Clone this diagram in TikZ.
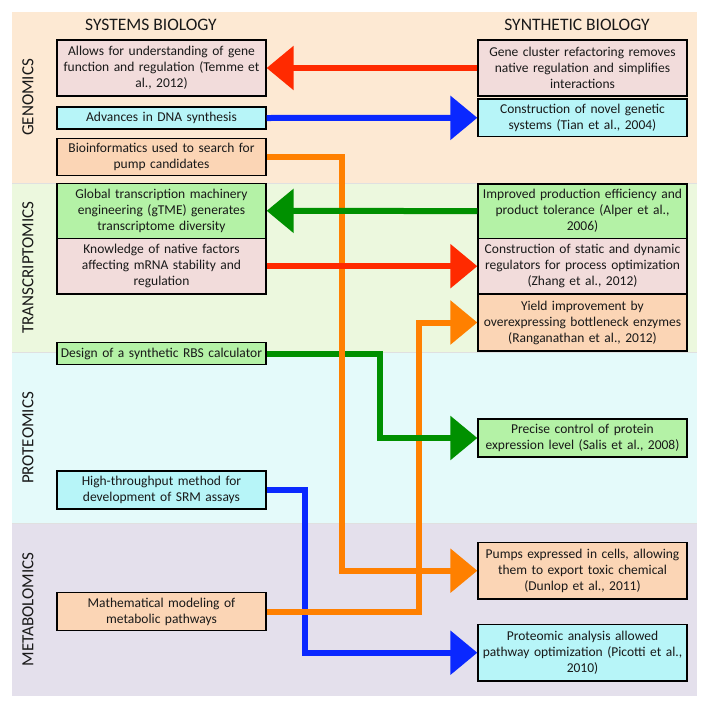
\documentclass[tikz,border=0pt]{standalone}
\usepackage{fontspec}
\setmainfont{Carlito}
\usetikzlibrary{arrows.meta}
% band and box colours
\definecolor{genband}{RGB}{253,233,211}
\definecolor{traband}{RGB}{236,248,222}
\definecolor{proband}{RGB}{228,250,250}
\definecolor{metband}{RGB}{228,224,236}
\definecolor{pinkbox}{RGB}{242,220,219}
\definecolor{cyanbox}{RGB}{183,245,248}
\definecolor{peachbox}{RGB}{251,213,181}
\definecolor{greenbox}{RGB}{180,242,166}
\definecolor{arrred}{RGB}{255,42,0}
\definecolor{arrblue}{RGB}{10,40,255}
\definecolor{arrorange}{RGB}{255,128,0}
\definecolor{arrgreen}{RGB}{0,144,0}
\tikzset{
  box/.style={draw=black,line width=1.3pt,text width=205pt,align=center,inner sep=2pt,
    font=\fontsize{13.5}{16}\selectfont,text=black!90},
  headlbl/.style={font=\fontsize{17.5}{19}\selectfont,text=black!90},
  sidelbl/.style={font=\fontsize{17}{19}\selectfont,text=black!90,rotate=90},
  link/.style={line width=6pt,miter limit=10,-{Triangle[length=27pt,width=43pt]}}
}
\begin{document}
\begin{tikzpicture}[x=1pt,y=-1pt]
\useasboundingbox (0,0) rectangle (710,710);
% bands
\fill[genband] (12,12) rectangle (697,183);
\fill[traband] (12,183) rectangle (697,352.5);
\fill[proband] (12,352.5) rectangle (697,523.5);
\fill[metband] (12,523.5) rectangle (697,696);
\draw[black!12,line width=1pt] (12,183) -- (697,183) (12,352.5) -- (697,352.5) (12,523.5) -- (697,523.5);
\node[headlbl] (sysbio) at (151,25) {SYSTEMS BIOLOGY};
\node[headlbl] (synbio) at (577,25) {SYNTHETIC BIOLOGY};
\node[sidelbl] (genom) at (28,97.5) {GENOMICS};
\node[sidelbl] (transc) at (28,267.5) {TRANSCRIPTOMICS};
\node[sidelbl] (proteo) at (28,438) {PROTEOMICS};
\node[sidelbl] (metab) at (28,609.5) {METABOLOMICS};
% systems biology column
\node[box,fill=pinkbox,minimum height=56pt] (allows) at (161.5,68) {Allows for understanding of gene\\ function and regulation (Temme et\\ al., 2012)};
\node[box,fill=cyanbox,minimum height=22pt] (dna) at (161.5,118) {Advances in DNA synthesis};
\node[box,fill=peachbox,minimum height=37pt] (bioinf) at (161.5,156.7) {Bioinformatics used to search for\\ pump candidates};
\node[box,fill=greenbox,minimum height=55pt] (gtme) at (161.5,210.8) {Global transcription machinery\\ engineering (gTME) generates\\ transcriptome diversity};
\node[box,fill=pinkbox,minimum height=55.7pt] (native) at (161.5,266.2) {Knowledge of native factors\\ affecting mRNA stability and\\ regulation};
\node[box,fill=greenbox,minimum height=21.6pt] (rbs) at (161.5,353.5) {Design of a synthetic RBS calculator};
\node[box,fill=cyanbox,minimum height=38pt] (srm) at (161.5,490) {High-throughput method for\\ development of SRM assays};
\node[box,fill=peachbox,minimum height=38pt] (model) at (161.5,611.7) {Mathematical modeling of\\ metabolic pathways};
% synthetic biology column
\node[box,fill=pinkbox,minimum height=56pt] (refactor) at (582.5,68) {Gene cluster refactoring removes\\ native regulation and simplifies\\ interactions};
\node[box,fill=cyanbox,minimum height=37.7pt] (novel) at (582.5,117.8) {Construction of novel genetic\\ systems (Tian et al., 2004)};
\node[box,fill=greenbox,minimum height=54.3pt] (alper) at (582.5,211.1) {Improved production efficiency and\\ product tolerance (Alper et al.,\\ 2006)};
\node[box,fill=pinkbox,minimum height=55.7pt] (zhang) at (582.5,266.2) {Construction of static and dynamic\\ regulators for process optimization\\ (Zhang et al., 2012)};
\node[box,fill=peachbox,minimum height=57pt] (yield) at (582.5,322.5) {Yield improvement by\\ overexpressing bottleneck enzymes\\ (Ranganathan et al., 2012)};
\node[box,fill=greenbox,minimum height=38pt] (salis) at (582.5,438) {Precise control of protein\\ expression level (Salis et al., 2008)};
\node[box,fill=peachbox,minimum height=56.7pt] (pumps) at (582.5,570.7) {Pumps expressed in cells, allowing\\ them to export toxic chemical\\ (Dunlop et al., 2011)};
\node[box,fill=cyanbox,minimum height=56.7pt] (picotti) at (582.5,652.7) {Proteomic analysis allowed\\ pathway optimization (Picotti et al.,\\ 2010)};
% connectors
\draw[link,arrblue] (srm.east) -- ++(38,0) |- (picotti.west);
\draw[link,arrorange] (model.east) -- ++(152,0) |- (yield.west);
\draw[link,arrgreen] (rbs.east) -- ++(113,0) |- (salis.west);
\draw[link,arrorange] (bioinf.east) -- ++(75,0) |- (pumps.west);
\draw[link,arrgreen] (alper.west) -- (gtme.east);
\draw[link,arrred] (native.east) -- (zhang.west);
\draw[link,arrred] (refactor.west) -- (allows.east);
\draw[link,arrblue] (dna.east) -- (novel.west);
\end{tikzpicture}
\end{document}
